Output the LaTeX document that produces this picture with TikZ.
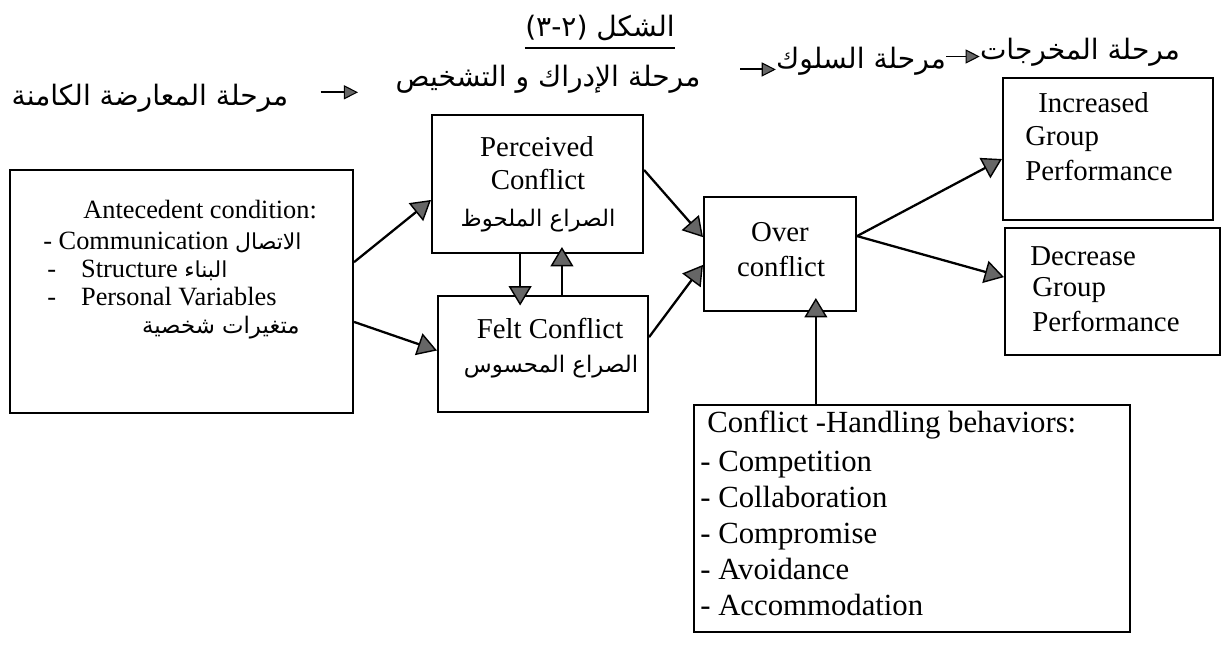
\documentclass[tikz,border=0pt]{standalone}
\usepackage{fontspec}
\setmainfont{Liberation Serif}
\newfontfamily\arfont[Script=Arabic]{DejaVu Sans}
\TeXXeTstate=1
\usetikzlibrary{arrows.meta,calc}
\newcommand{\artxt}[1]{{\arfont\beginR #1\endR}}
\newcommand{\smallar}[1]{{\fontsize{12.5}{15}\selectfont\artxt{#1}}}
\tikzset{box/.style={draw=black,line width=1.2pt,inner sep=0pt},
  txt/.style={inner sep=0pt,font=\fontsize{16.4}{19}\selectfont},
  antetxt/.style={inner sep=0pt,font=\fontsize{15}{18}\selectfont},
  handtxt/.style={inner sep=0pt,font=\fontsize{17.5}{21}\selectfont},
  phase/.style={inner sep=0pt,font=\fontsize{16}{19}\selectfont},
  boxar/.style={inner sep=0pt,font=\fontsize{13}{16}\selectfont},
  flow/.style={-{Triangle[length=11pt,width=13pt,fill=black!60,line width=0.8pt]},line width=1.3pt},
  phasearr/.style={-{Triangle[length=8pt,width=8pt,fill=black!60,line width=0.6pt]},line width=1.1pt}}
\begin{document}
\begin{tikzpicture}[x=0.02cm,y=-0.02cm]
\path[use as bounding box] (0,0) rectangle (1227,650);
% title and stages
\node[phase] (title) at (600,28) {\artxt{الشكل \beginL(٢-٣)\endL}};
\draw[line width=1pt] ([yshift=-4pt]title.south west) -- ([yshift=-4pt]title.south east);
\node[phase] (l1) at (150,98) {\artxt{مرحلة المعارضة الكامنة}};
\node[phase] (l2) at (548,79) {\artxt{مرحلة الإدراك و التشخيص}};
\node[phase] (l3) at (861,61) {\artxt{مرحلة السلوك}};
\node[phase] (l4) at (1080,52) {\artxt{مرحلة المخرجات}};
\coordinate (a1) at ($(l1.east)!.3!(l2.west)$);
\coordinate (b1) at ($(l1.east)!.65!(l2.west)$);
\draw[phasearr] (a1) -- (a1 -| b1);
\coordinate (a2) at ($(l2.east)!.53!(l3.west)$);
\draw[phasearr] (a2) -- (a2 -| l3.west);
\coordinate (a3) at ($(l3.east)!.5!(l4.west)$);
\draw[phasearr] (a3 -| l3.east) -- (a3 -| l4.west);
% boxes
\node[box,minimum width=6.86cm,minimum height=4.86cm] (ante) at (181.5,291.5) {};
\node[box,minimum width=4.22cm,minimum height=2.76cm] (perc) at (537.5,184) {};
\node[box,minimum width=4.2cm,minimum height=2.32cm] (felt) at (543,354) {};
\node[box,minimum width=3.04cm,minimum height=2.28cm] (over) at (780,254) {};
\node[box,minimum width=4.2cm,minimum height=2.84cm] (inc) at (1108,149) {};
\node[box,minimum width=4.3cm,minimum height=2.54cm] (dec) at (1112.5,291.5) {};
\node[box,minimum width=8.72cm,minimum height=4.54cm] (hand) at (912,518.5) {};
% box texts
\node[antetxt,anchor=base west] (ante1) at (83,218) {Antecedent condition:};
\node[antetxt,anchor=base west] (ante2) at (43,249) {- Communication \smallar{الاتصال}};
\node[antetxt,anchor=base west] (ante3) at (47,277) {-\hspace{0.5cm}Structure \smallar{البناء}};
\node[antetxt,anchor=base west] (ante4) at (47,305) {-\hspace{0.5cm}Personal Variables};
\node[boxar,anchor=base east] (ante5) at (300,333) {\artxt{متغيرات شخصية}};
\node[txt,anchor=base] (perc1) at (537,156) {Perceived};
\node[txt,anchor=base] (perc2) at (538,189) {Conflict};
\node[boxar,anchor=base] (perc3) at (538,226) {\artxt{الصراع الملحوظ}};
\node[txt,anchor=base] (felt1) at (550,338) {Felt Conflict};
\node[boxar,anchor=base] (felt2) at (551,372) {\artxt{الصراع المحسوس}};
\node[txt,anchor=base] (over1) at (780,241) {Over};
\node[txt,anchor=base] (over2) at (781,276) {conflict};
\node[txt,anchor=base west] (inc1) at (1038,112) {Increased};
\node[txt,anchor=base west] (inc2) at (1025,145) {Group};
\node[txt,anchor=base west] (inc3) at (1025,180) {Performance};
\node[txt,anchor=base west] (dec1) at (1030,265) {Decrease};
\node[txt,anchor=base west] (dec2) at (1032,296) {Group};
\node[txt,anchor=base west] (dec3) at (1032,331) {Performance};
\node[handtxt,anchor=base west] (hand0) at (707,432) {Conflict -Handling behaviors:};
\foreach \t [count=\i] in {Competition,Collaboration,Compromise,Avoidance,Accommodation}
  \node[handtxt,anchor=base west] (hand\i) at (700,{436+\i*35.8}) {- \t};
% connectors
\draw[flow] ([yshift=16.7pt]ante.east) -- ([yshift=-9.1pt]perc.west);
\draw[flow] ([yshift=-17.3pt]ante.east) -- ([yshift=2pt]felt.west);
\draw[flow,shorten >=-6pt] ([xshift=-9.9pt]perc.south) -- ([xshift=-9.9pt]perc.south |- felt.north);
\draw[flow,shorten >=-4pt] ([xshift=13.9pt]perc.south |- felt.north) -- ([xshift=13.9pt]perc.south);
\draw[flow] ([yshift=8pt]perc.east) -- ([yshift=9.6pt]over.west);
\draw[flow] ([yshift=9.6pt]felt.east) -- ([yshift=-6.2pt]over.west);
\draw[flow] ([yshift=10.2pt]over.east) -- ([yshift=-5.7pt]inc.west);
\draw[flow] ([yshift=10.2pt]over.east) -- ([yshift=8.2pt]dec.west);
\draw[flow,shorten >=-8pt] ([xshift=20.4pt]over.south |- hand.north) -- ([xshift=20.4pt]over.south);
\end{tikzpicture}
\end{document}
